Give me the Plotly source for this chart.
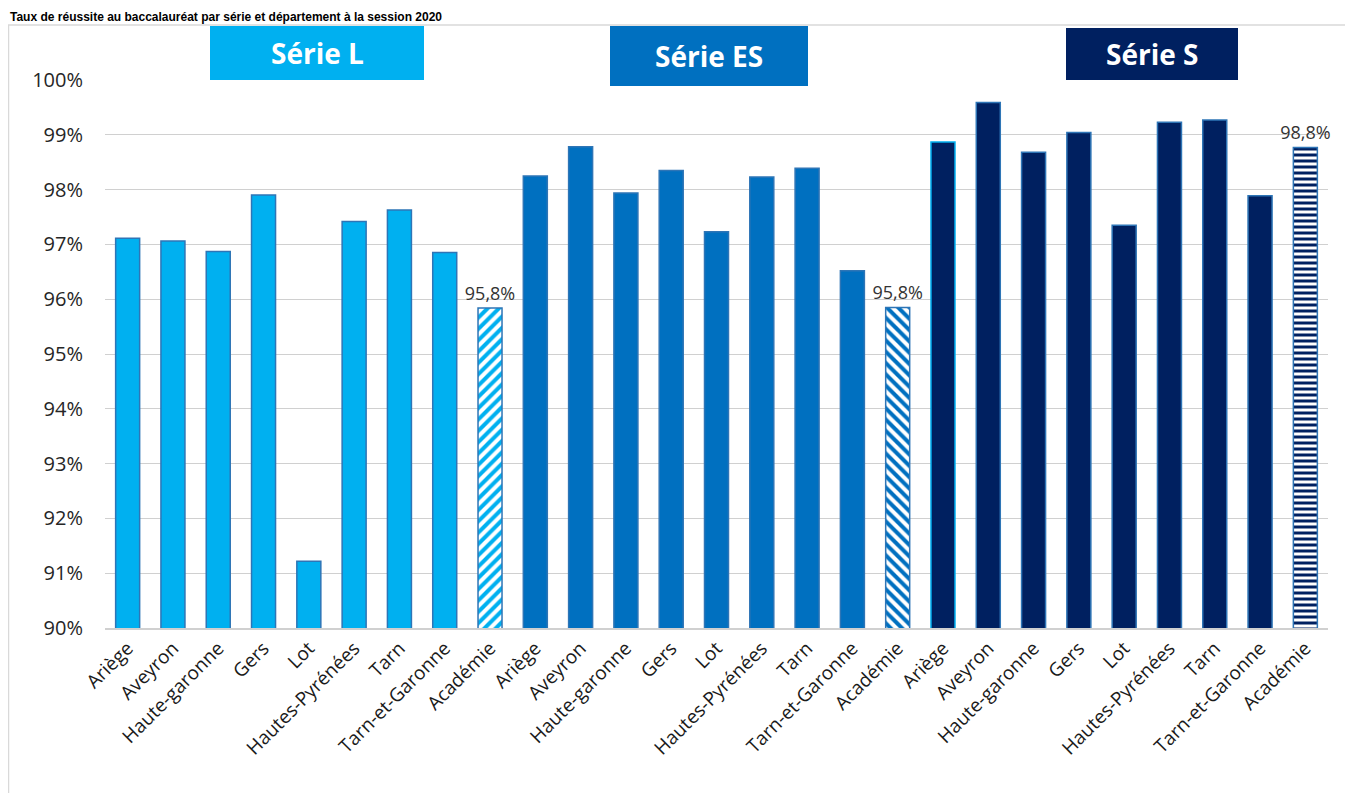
import plotly.graph_objects as go

categories = ["Ariège", "Aveyron", "Haute-garonne", "Gers", "Lot",
              "Hautes-Pyrénées", "Tarn", "Tarn-et-Garonne", "Académie"]
series_names = ["Série L", "Série ES", "Série S"]
serie_L = [97.11, 97.06, 96.87, 97.90, 91.22, 97.42, 97.63, 96.85, 95.84]
serie_ES = [98.25, 98.78, 97.94, 98.35, 97.23, 98.23, 98.39, 96.52, 95.85]
serie_S = [98.87, 99.59, 98.68, 99.04, 97.35, 99.23, 99.27, 97.89, 98.77]
title_text = "Taux de réussite au baccalauréat par série et département à la session 2020"

colors = ["#00B0F0", "#0070C0", "#002060"]
patterns = ["/", "\\", "-"]
all_series = [serie_L, serie_ES, serie_S]

OFF = 8  # page body margin
W, H = 1353 - OFF, 793 - OFF
L, R, T, B = 105 - OFF, 25, 80 - OFF, 165
pw, ph = W - L - R, H - T - B

def px(x):  # page pixel -> paper
    return (x - OFF - L) / pw

def py(y):
    return (H - B - (y - OFF)) / ph

fig = go.Figure()
n = len(categories)
tickvals, ticktext = [], []
for s, (vals, col, pat) in enumerate(zip(all_series, colors, patterns)):
    xs = [s * n + i for i in range(n)]
    tickvals += xs
    ticktext += categories
    line_cols = ["#2E75B6"] * (n - 1)
    if s == 2:
        line_cols[0] = "#00B0F0"
    fig.add_trace(go.Bar(
        x=xs[:-1], y=vals[:-1], width=0.53,
        marker=dict(color=col, line=dict(color=line_cols, width=1.5)),
        showlegend=False, hoverinfo="y"))
    fig.add_trace(go.Bar(
        x=xs[-1:], y=vals[-1:], width=0.53,
        marker=dict(color="white", line=dict(color="#2E75B6", width=1.5),
                    pattern=dict(shape=pat, fgcolor=col, bgcolor="white",
                                 fgopacity=1, size=8 if s < 2 else 6,
                                 solidity=0.5, fillmode="overlay")),
        text=vals[-1:], texttemplate="%{y:.1f}%", textposition="outside",
        constraintext="none",
        textfont=dict(family="Open Sans", size=18, color="#333333"),
        cliponaxis=False, showlegend=False, hoverinfo="y"))

# header boxes (page pixels)
boxes = [(210, 424, 26, 80), (610, 808, 26, 86), (1066, 1238, 28, 80)]
for (x0, x1, y0, y1), col, name in zip(boxes, colors, series_names):
    fig.add_shape(type="rect", xref="paper", yref="paper",
                  x0=px(x0), x1=px(x1), y0=py(y1), y1=py(y0),
                  fillcolor=col, line=dict(width=0), layer="above")
    fig.add_annotation(xref="paper", yref="paper",
                       x=(px(x0) + px(x1)) / 2, y=(py(y0) + py(y1)) / 2,
                       text="<b>" + name + "</b>", showarrow=False,
                       font=dict(family="Open Sans", size=28, color="white"),
                       xanchor="center", yanchor="middle")

# frame
fig.add_shape(type="line", xref="paper", yref="paper",
              x0=px(8), x1=px(1360), y0=py(25), y1=py(25),
              line=dict(color="#D9D9D9", width=1.5))
fig.add_shape(type="line", xref="paper", yref="paper",
              x0=px(8.5), x1=px(8.5), y0=py(25), y1=py(800),
              line=dict(color="#D9D9D9", width=1.5))

# title
fig.add_annotation(xref="paper", yref="paper", x=px(9), y=py(9),
                   xanchor="left", yanchor="top", showarrow=False,
                   borderpad=0,
                   text="<b>" + title_text + "</b>",
                   font=dict(family="Liberation Sans", size=12, color="black"))

fig.update_layout(
    width=W, height=H,
    margin=dict(l=L, r=R, t=T, b=B),
    paper_bgcolor="white", plot_bgcolor="white",
    barmode="overlay", separators=", ",
    font=dict(family="Open Sans", color="#333333"),
    xaxis=dict(tickvals=tickvals, ticktext=ticktext, tickangle=-45,
               range=[-0.5, 3 * n - 0.5], showgrid=False,
               showline=True, linecolor="#D0D0D0", linewidth=1.5,
               tickfont=dict(family="Open Sans", size=19, color="#1a1a1a"),
               ticks=""),
    yaxis=dict(range=[90, 100], dtick=1, ticksuffix="%",
               showgrid=True, gridcolor="#D0D0D0", gridwidth=1.3,
               zeroline=False, ticklabelstandoff=21,
               tickfont=dict(family="Open Sans", size=20, color="#262626")),
)

fig.write_html("out.html")
